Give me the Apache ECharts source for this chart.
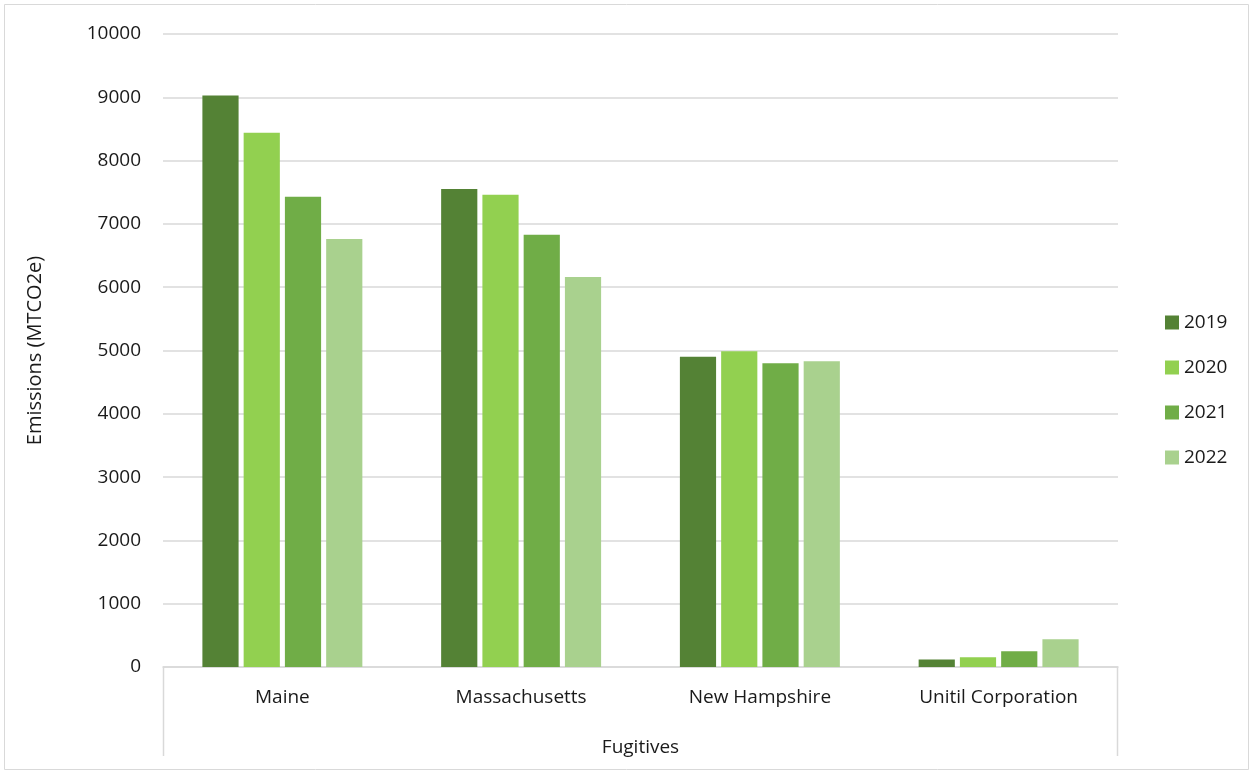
<!DOCTYPE html>
<html>
<head>
<meta charset="utf-8">
<script src="https://cdn.jsdelivr.net/npm/echarts@6/dist/echarts.min.js"></script>
<style>
  html, body { margin: 0; padding: 0; background: #fff; }
  #main { width: 1253px; height: 773px; }
</style>
</head>
<body>
<div id="main"></div>
<script>
var categories = ['Maine', 'Massachusetts', 'New Hampshire', 'Unitil Corporation'];
var years = ['2019', '2020', '2021', '2022'];
var v2019 = [9030, 7550, 4900, 120];
var v2020 = [8440, 7460, 4990, 155];
var v2021 = [7430, 6830, 4800, 250];
var v2022 = [6760, 6160, 4830, 440];
var colors = ['#548235', '#92d050', '#70ad47', '#a9d18e'];

var myChart = echarts.init(document.getElementById('main'));

var font = 'Open Sans';
var seriesData = [v2019, v2020, v2021, v2022];

var option = {
    color: colors,
    textStyle: { fontFamily: font },
    grid: {
        left: 163,
        right: 135,
        top: 34,
        bottom: 106
    },
    legend: {
        orient: 'vertical',
        left: 1160,
        top: 308,
        itemWidth: 14,
        itemHeight: 14,
        itemGap: 26,
        icon: 'rect',
        textStyle: { fontSize: 19, color: '#1a1a1a', fontFamily: font },
        data: years
    },
    xAxis: {
        type: 'category',
        data: categories,
        name: 'Fugitives',
        nameLocation: 'middle',
        nameGap: 71,
        nameTextStyle: { fontSize: 19, color: '#1a1a1a', fontFamily: font },
        axisLine: { lineStyle: { color: '#d9d9d9', width: 1.5 } },
        axisTick: { show: false },
        axisLabel: { fontSize: 19, color: '#1a1a1a', margin: 21, fontFamily: font }
    },
    yAxis: {
        type: 'value',
        min: 0,
        max: 10000,
        interval: 1000,
        name: 'Emissions (MTCO2e)',
        nameLocation: 'middle',
        nameGap: 118,
        nameTextStyle: { fontSize: 20, color: '#1a1a1a', fontFamily: font },
        axisLine: { show: false },
        axisTick: { show: false },
        axisLabel: {
            fontSize: 19,
            color: '#1a1a1a',
            margin: 22,
            fontFamily: font,
            formatter: function (v) { return String(v); }
        },
        splitLine: { lineStyle: { color: '#d9d9d9', width: 1.5 } }
    },
    graphic: [
        {
            type: 'rect',
            shape: { x: 4.5, y: 4.5, width: 1244, height: 765 },
            style: { fill: null, stroke: '#d9d9d9', lineWidth: 1 },
            silent: true
        },
        {
            type: 'line',
            shape: { x1: 163.5, y1: 667, x2: 163.5, y2: 756 },
            style: { stroke: '#d9d9d9', lineWidth: 1.5 },
            silent: true
        },
        {
            type: 'line',
            shape: { x1: 1117.5, y1: 667, x2: 1117.5, y2: 756 },
            style: { stroke: '#d9d9d9', lineWidth: 1.5 },
            silent: true
        }
    ],
    series: years.map(function (y, i) {
        return {
            name: y,
            type: 'bar',
            barGap: '14%',
            barCategoryGap: '33%',
            data: seriesData[i]
        };
    })
};

option && myChart.setOption(option);
</script>
</body>
</html>
